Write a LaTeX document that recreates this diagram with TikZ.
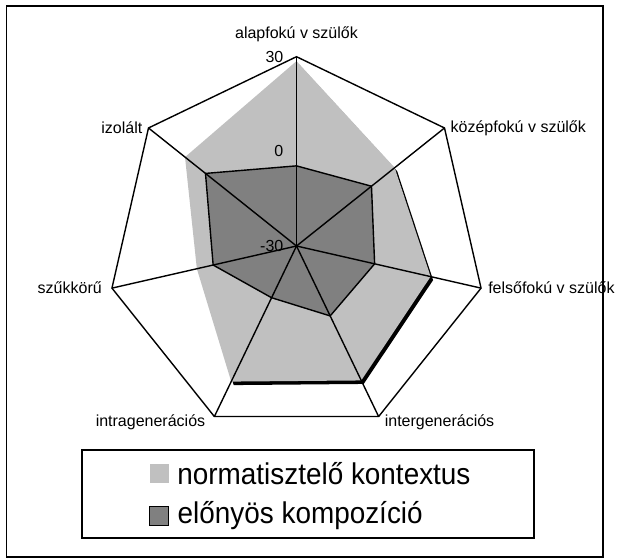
\documentclass[tikz,border=0pt]{standalone}
\usepackage{fontspec}
\setmainfont{Liberation Sans}
\newfontfamily\legendfont[FakeStretch=0.93]{Liberation Sans}
\usetikzlibrary{positioning}

\definecolor{normgray}{RGB}{192,192,192}
\definecolor{kompgray}{RGB}{128,128,128}

\begin{document}
\begin{tikzpicture}[x=1pt, y=1pt,
        axislabel/.style={font=\fontsize{16}{18}\selectfont, inner sep=0pt},
        ticklabel/.style={font=\fontsize{16}{18}\selectfont, inner sep=0pt, anchor=east},
        grid/.style={draw=black, line width=1.4pt, line join=miter},
        % Style for the two data series
        normarea/.style={fill=normgray},
        komparea/.style={fill=kompgray, draw=black, line width=1.4pt, line join=round},
        legendtext/.style={font=\legendfont\fontsize{30}{32}\selectfont, inner sep=0pt},
        swatch/.style={minimum size=19pt, inner sep=0pt}
    ]
        \def\R{189.3}
        \useasboundingbox (-296.5,-313) rectangle (323.5,246);

        % Outer frame
        \draw[line width=1.6pt] (-290,240) rectangle (306.5,-311);

        % Axis end points and the centre (-30)
        \coordinate (c) at (0,0);
        \foreach \i in {0,...,6}
            \coordinate (v\i) at ({90-\i*360/7}:\R);

        % Data points (scale -30 ... 30)
        \foreach \v [count=\i from 0] in {28.6,9.8,13.6,17.3,17.7,2.4,15.2} {
            \coordinate (n\i) at ({90-\i*360/7}:{(\v+30)/60*\R});
            \coordinate (s\i) at ([xshift=2.5pt,yshift=-3.5pt]{90-\i*360/7}:{(\v+30)/60*\R});
        }
        \foreach \v [count=\i from 0] in {-4.6,0.4,-4.6,-5.4,-11.8,-2.9,6.9}
            \coordinate (k\i) at ({90-\i*360/7}:{(\v+30)/60*\R});

        % Outer heptagon
        \draw[grid] (v0) -- (v1) -- (v2) -- (v3) -- (v4) -- (v5) -- (v6) -- cycle;

        % Normatisztelo kontextus with its shadow
        \fill[black] (s0) -- (s1) -- (s2) -- (s3) -- (s4) -- (s5) -- (s6) -- cycle;
        \fill[normarea] (n0) -- (n1) -- (n2) -- (n3) -- (n4) -- (n5) -- (n6) -- cycle;

        % Elonyos kompozicio
        \path[komparea] (k0) -- (k1) -- (k2) -- (k3) -- (k4) -- (k5) -- (k6) -- cycle;

        % Axes
        \foreach \i in {0,...,6}
            \draw[grid] (c) -- (v\i);

        % Scale labels
        \node (t30) [ticklabel] at ([xshift=-13pt]v0) {30};
        \node (t0) [ticklabel] at (-13,{\R/2}) {0};
        \node (tm30) [ticklabel] at ([xshift=-13pt]c) {-30};

        % Axis labels
        \node (lab0) [axislabel, above=15pt of v0] {alapfokú v szülők};
        \node (lab1) [axislabel, right=6pt of v1] {középfokú v szülők};
        \node (lab2) [axislabel, right=7pt of v2] {felsőfokú v szülők};
        \node (lab3) [axislabel, right=6pt of v3, yshift=-6pt] {intergenerációs};
        \node (lab4) [axislabel, left=9pt of v4, yshift=-6pt] {intragenerációs};
        \node (lab5) [axislabel, left=10pt of v5] {szűkkörű};
        \node (lab6) [axislabel, left=6pt of v6] {izolált};

        % Legend
        \node (legend) [draw, line width=1.4pt, minimum width=452pt, minimum height=88pt, inner sep=0pt] at (11.5,-248) {};
        \node (sw1) [swatch, fill=normgray] at (-137,-227.5) {};
        \node (lt1) [legendtext, right=8pt of sw1] {normatisztelő kontextus};
        \node (sw2) [swatch, fill=kompgray, draw=black, line width=1pt] at (-137,-269.5) {};
        \node (lt2) [legendtext, right=8pt of sw2] {előnyös kompozíció};

    \end{tikzpicture}
\end{document}
